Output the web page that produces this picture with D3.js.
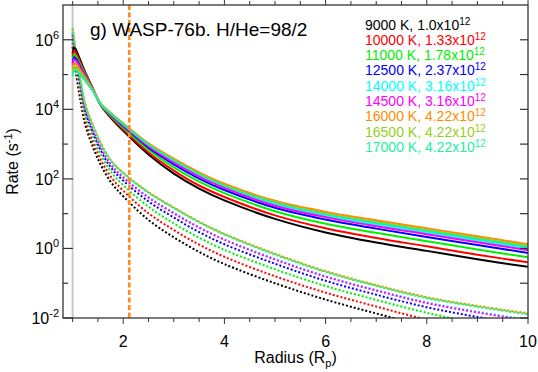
<!DOCTYPE html>
<html>
<head>
<meta charset="utf-8">
<script src="https://cdn.jsdelivr.net/npm/d3@7"></script>
<style>
  body { margin: 0; background: #fff; }
  svg { display: block; font-family: "Liberation Sans", Arial, Helvetica, sans-serif; }
</style>
</head>
<body>
<svg id="chart" width="538" height="372"></svg>
<script>
// radius grid (R_p) shared by every curve
var radius = [1.0, 1.03, 1.07, 1.15, 1.25, 1.4, 1.55, 1.75, 2.0, 2.5, 3.0, 3.5, 4.0, 5.0, 6.0, 7.0, 8.0, 9.0, 10.0];

var temps  = ["9000 K", "10000 K", "11000 K", "12500 K", "14000 K", "14500 K", "16000 K", "16500 K", "17000 K"];
var fluxes = ["1.0", "1.33", "1.78", "2.37", "3.16", "3.16", "4.22", "4.22", "4.22"];
var colors = ["#000000", "#ff0000", "#00f000", "#0000ff", "#00ffff", "#ff00ff", "#ff8c00", "#9acd20", "#1ef0a0"];

// log10 of rate, solid curves
var solid9000  = [5.60, 5.78, 5.70, 5.42, 5.07, 4.60, 4.13, 3.76, 3.38, 2.70, 2.15, 1.72, 1.38, 0.85, 0.46, 0.17, -0.07, -0.31, -0.53];
var solid10000 = [5.51, 5.69, 5.62, 5.36, 5.04, 4.59, 4.14, 3.79, 3.42, 2.76, 2.24, 1.81, 1.48, 0.95, 0.58, 0.30, 0.06, -0.18, -0.40];
var solid11000 = [5.41, 5.58, 5.53, 5.29, 5.00, 4.58, 4.15, 3.82, 3.47, 2.84, 2.33, 1.92, 1.59, 1.07, 0.71, 0.45, 0.21, -0.03, -0.25];
var solid12500 = [5.32, 5.49, 5.45, 5.23, 4.96, 4.58, 4.16, 3.85, 3.52, 2.90, 2.42, 2.01, 1.68, 1.17, 0.83, 0.57, 0.33, 0.10, -0.13];
var solid14000 = [5.23, 5.40, 5.37, 5.17, 4.93, 4.57, 4.17, 3.87, 3.56, 2.96, 2.50, 2.11, 1.77, 1.28, 0.94, 0.69, 0.46, 0.23, 0.00];
var solid14500 = [5.27, 5.44, 5.40, 5.20, 4.94, 4.57, 4.17, 3.86, 3.54, 2.94, 2.47, 2.07, 1.74, 1.23, 0.90, 0.64, 0.41, 0.18, -0.05];
var solid16000 = [5.15, 5.32, 5.30, 5.12, 4.90, 4.56, 4.18, 3.90, 3.60, 3.02, 2.58, 2.19, 1.86, 1.37, 1.05, 0.81, 0.58, 0.35, 0.12];
var solid16500 = [5.05, 5.22, 5.21, 5.06, 4.86, 4.54, 4.17, 3.89, 3.58, 2.99, 2.55, 2.15, 1.82, 1.33, 1.00, 0.76, 0.53, 0.30, 0.07];
var solid17000 = [4.95, 5.12, 5.12, 5.00, 4.82, 4.52, 4.16, 3.88, 3.57, 2.98, 2.53, 2.13, 1.80, 1.31, 0.98, 0.73, 0.50, 0.27, 0.04];

// log10 of rate, dotted curves
var dot9000  = [5.80, 5.45, 5.00, 4.30, 3.55, 2.92, 2.42, 1.92, 1.50, 0.82, 0.32, -0.10, -0.45, -1.00, -1.47, -1.87, -2.25, -2.60, -2.90];
var dot10000 = [5.92, 5.58, 5.14, 4.44, 3.69, 3.07, 2.57, 2.07, 1.66, 1.01, 0.53, 0.11, -0.24, -0.80, -1.27, -1.67, -2.05, -2.37, -2.65];
var dot11000 = [6.04, 5.71, 5.28, 4.58, 3.83, 3.22, 2.72, 2.22, 1.82, 1.20, 0.72, 0.31, -0.04, -0.60, -1.08, -1.48, -1.85, -2.15, -2.41];
var dot12500 = [6.13, 5.81, 5.40, 4.70, 3.95, 3.34, 2.84, 2.34, 1.95, 1.35, 0.89, 0.47, 0.12, -0.44, -0.93, -1.33, -1.69, -1.97, -2.21];
var dot14000 = [6.21, 5.90, 5.49, 4.79, 4.04, 3.44, 2.94, 2.44, 2.06, 1.48, 1.03, 0.61, 0.26, -0.30, -0.80, -1.20, -1.55, -1.82, -2.05];
var dot14500 = [6.20, 5.89, 5.48, 4.78, 4.03, 3.42, 2.92, 2.42, 2.04, 1.46, 1.01, 0.60, 0.25, -0.32, -0.81, -1.21, -1.57, -1.84, -2.07];
var dot16000 = [6.30, 6.00, 5.60, 4.90, 4.15, 3.55, 3.05, 2.55, 2.18, 1.62, 1.18, 0.77, 0.42, -0.15, -0.65, -1.05, -1.40, -1.65, -1.86];
var dot16500 = [6.32, 6.00, 5.58, 4.89, 4.14, 3.54, 3.04, 2.54, 2.17, 1.61, 1.17, 0.76, 0.41, -0.16, -0.66, -1.06, -1.41, -1.66, -1.88];
var dot17000 = [6.35, 6.02, 5.58, 4.88, 4.13, 3.53, 3.03, 2.53, 2.16, 1.60, 1.16, 0.75, 0.40, -0.18, -0.68, -1.08, -1.43, -1.68, -1.90];

var solidSets = [solid9000, solid10000, solid11000, solid12500, solid14000, solid14500, solid16000, solid16500, solid17000];
var dotSets   = [dot9000, dot10000, dot11000, dot12500, dot14000, dot14500, dot16000, dot16500, dot17000];

var xTicksMajor = [2, 4, 6, 8, 10];
var yTicksMajor = [-2, 0, 2, 4, 6];      // exponents
var yTicksMinor = [-1, 1, 3, 5];
var markerRadius = 2.12;                  // orange dashed line
var title = "g) WASP-76b. H/He=98/2";

var svg = d3.select("#chart"),
    margin = { top: 5, right: 10, bottom: 54, left: 63 },
    width = 538 - margin.left - margin.right,
    height = 372 - margin.top - margin.bottom;

var x = d3.scaleLinear().domain([0.81, 10]).range([0, width]);
var y = d3.scaleLog().domain([1e-2, 1e7]).range([height, 0]);

var g = svg.append("g").attr("transform", "translate(" + margin.left + "," + margin.top + ")");

g.append("defs").append("clipPath").attr("id", "clip")
    .append("rect").attr("width", width).attr("height", height);

var plot = g.append("g").attr("clip-path", "url(#clip)");

// gray line at the planet surface
plot.append("line")
    .attr("x1", x(1)).attr("x2", x(1))
    .attr("y1", 0).attr("y2", height)
    .attr("stroke", "#c8c8c8").attr("stroke-width", 2);

var line = d3.line()
    .x(function(d) { return x(d[0]); })
    .y(function(d) { return y(Math.pow(10, d[1])); })
    .curve(d3.curveCatmullRom.alpha(0.5));

function pts(arr) { return radius.map(function(r, i) { return [r, arr[i]]; }); }

dotSets.forEach(function(arr, i) {
    plot.append("path")
        .attr("d", line(pts(arr)))
        .attr("fill", "none")
        .attr("stroke", colors[i])
        .attr("stroke-width", 2)
        .attr("stroke-dasharray", "2,2");
});

solidSets.forEach(function(arr, i) {
    plot.append("path")
        .attr("d", line(pts(arr)))
        .attr("fill", "none")
        .attr("stroke", colors[i])
        .attr("stroke-width", 2);
});

plot.append("line")
    .attr("x1", x(markerRadius)).attr("x2", x(markerRadius))
    .attr("y1", 0).attr("y2", height)
    .attr("stroke", "#ff8c1a").attr("stroke-width", 2.7)
    .attr("stroke-dasharray", "5,2.5");

// frame
var axisColor = "#333";
g.append("rect")
    .attr("width", width).attr("height", height)
    .attr("fill", "none").attr("stroke", axisColor).attr("stroke-width", 1.3);

// x ticks (outward, top and bottom)
var xMinor = d3.range(1, 10.01, 0.5);
xMinor.forEach(function(v) {
    var major = xTicksMajor.indexOf(v) > -1;
    var len = major ? 6 : 4;
    g.append("line").attr("x1", x(v)).attr("x2", x(v)).attr("y1", height).attr("y2", height + len)
        .attr("stroke", axisColor).attr("stroke-width", 1);
    g.append("line").attr("x1", x(v)).attr("x2", x(v)).attr("y1", 0).attr("y2", -len)
        .attr("stroke", axisColor).attr("stroke-width", 1);
});
xTicksMajor.forEach(function(v) {
    g.append("text").attr("x", x(v)).attr("y", height + 29)
        .attr("text-anchor", "middle").attr("font-size", 16).text(v);
});

// y ticks (inward, left and right)
yTicksMajor.concat(yTicksMinor).forEach(function(e) {
    var major = yTicksMajor.indexOf(e) > -1;
    var yy = y(Math.pow(10, e));
    g.append("line").attr("x1", 0).attr("x2", major ? 10 : 5).attr("y1", yy).attr("y2", yy)
        .attr("stroke", axisColor).attr("stroke-width", 1.2);
    g.append("line").attr("x1", width).attr("x2", width - 8).attr("y1", yy).attr("y2", yy)
        .attr("stroke", axisColor).attr("stroke-width", 1.2);
});
yTicksMajor.forEach(function(e) {
    var t = g.append("text").attr("x", -4).attr("y", y(Math.pow(10, e)) + 6)
        .attr("text-anchor", "end").attr("font-size", 16);
    t.append("tspan").text("10");
    t.append("tspan").attr("dy", -7).attr("font-size", 11).text(e);
});

// axis titles
var xt = g.append("text").attr("x", width / 2).attr("y", height + 45)
    .attr("text-anchor", "middle").attr("font-size", 16);
xt.append("tspan").text("Radius (R");
xt.append("tspan").attr("dy", 4).attr("font-size", 11).text("p");
xt.append("tspan").attr("dy", -4).text(")");

var yt = svg.append("text")
    .attr("transform", "translate(18," + (margin.top + height / 2) + ") rotate(-90)")
    .attr("text-anchor", "middle").attr("font-size", 16);
yt.append("tspan").text("Rate (s");
yt.append("tspan").attr("dy", -6).attr("font-size", 11).text("-1");
yt.append("tspan").attr("dy", 6).text(")");

// title
g.append("text").attr("x", 27).attr("y", 31).attr("font-size", 19).text(title);

// legend
temps.forEach(function(t, i) {
    var lt = g.append("text").attr("x", 302).attr("y", 24.5 + i * 15.3)
        .attr("font-size", 14).attr("fill", colors[i]);
    lt.append("tspan").text(t + ", " + fluxes[i] + "x10");
    lt.append("tspan").attr("dy", -5).attr("font-size", 10).text("12");
});
</script>
</body>
</html>
